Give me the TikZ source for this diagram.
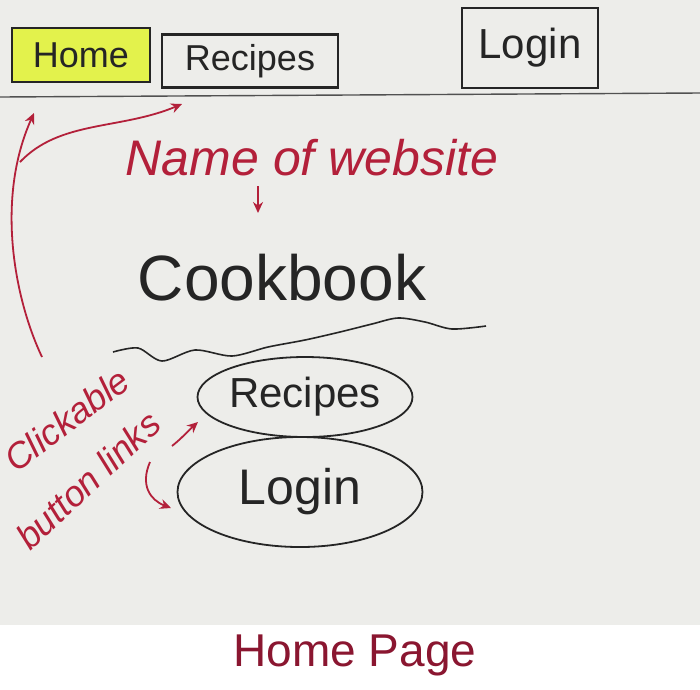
\documentclass[tikz,border=0pt]{standalone}
\usepackage{fontspec}
\setmainfont{Liberation Sans}
\usetikzlibrary{shapes.geometric,arrows.meta}
\definecolor{paper}{HTML}{EDEDEA}
\definecolor{pen}{HTML}{252525}
\definecolor{redpen}{HTML}{B3203A}
\definecolor{titlered}{HTML}{8A1630}
\definecolor{highlight}{HTML}{E3F24C}
\begin{document}
\begin{tikzpicture}[x=1pt,y=-1pt,
  navbox/.style={draw=pen,line width=2.2pt,inner sep=0pt,text=pen,
    font=\fontsize{36}{40}\selectfont},
  oval/.style={ellipse,draw=pen,line width=1.8pt,inner sep=0pt,text=pen},
  note/.style={text=redpen,inner sep=0pt,font=\itshape\fontsize{36}{40}\selectfont},
  redarrow/.style={draw=redpen,line width=1.8pt,-{Stealth[length=11pt,width=10pt]}},
  inkline/.style={draw=pen,line width=1.6pt}
]
% paper and the white caption strip
\fill[white] (0,0) rectangle (700,689);
\fill[paper] (0,0) rectangle (700,625);
\useasboundingbox (0,0) rectangle (700,689);

% navigation bar
\node[navbox,fill=highlight,minimum width=138pt,minimum height=54pt] (home) at (81,55) {Home};
\node[navbox,minimum width=176pt,minimum height=53pt] (recipes) at (250,61) {Recipes};
\node[navbox,minimum width=136pt,minimum height=80pt,font=\fontsize{42}{46}\selectfont] (login) at (530,48) {Login};
\coordinate (barL) at (0,97);
\coordinate (barR) at (700,93);
\draw[draw=pen!80,line width=1.4pt] (barL) -- (barR);

% site name
\node[note,font=\itshape\fontsize{50}{54}\selectfont] (namelbl) at (312,158) {Name of website};
\node[text=pen,inner sep=0pt,font=\fontsize{64}{68}\selectfont] (cookbook) at (282,278) {Cookbook};
\coordinate (namefoot) at (258,186);
\coordinate (cookhead) at (258,213);
\draw[redarrow] (namefoot) -- (cookhead);

% wavy underline
\draw[inkline] plot[smooth] coordinates {(113,352) (138,348) (162,361) (195,350) (232,356) (268,347) (305,340) (340,332) (372,324) (398,318) (425,322) (452,329) (486,326)};

% page links
\node[oval,minimum width=215pt,minimum height=80pt,font=\fontsize{42}{46}\selectfont] (reclink) at (305,397) {Recipes};
\node[oval,minimum width=245pt,minimum height=110pt,font=\fontsize{50}{54}\selectfont] (loglink) at (300,492) {Login};

% annotation
\node[note,rotate=37,anchor=base west] (click) at (16,474) {Clickable};
\node[note,rotate=43,anchor=base west] (button) at (30,552) {button links};

% annotation arrows
\coordinate (up0) at (42,357);
\coordinate (fork) at (20,162);
\coordinate (homefoot) at (34,113);
\coordinate (recfoot) at (182,104);
\coordinate (toRec) at (198,422);
\coordinate (toLog) at (171,508);
\draw[redarrow] (up0) .. controls (15,300) and (-5,200) .. (homefoot);
\draw[redarrow] (fork) .. controls (60,120) and (120,130) .. (recfoot);
\draw[redarrow] (172,446) .. controls (182,438) and (188,431) .. (toRec);
\draw[redarrow] (150,462) .. controls (140,485) and (150,500) .. (toLog);

% caption
\node[text=titlered,inner sep=0pt,font=\fontsize{46}{50}\selectfont] (caption) at (355,655) {Home Page};
\end{tikzpicture}
\end{document}
